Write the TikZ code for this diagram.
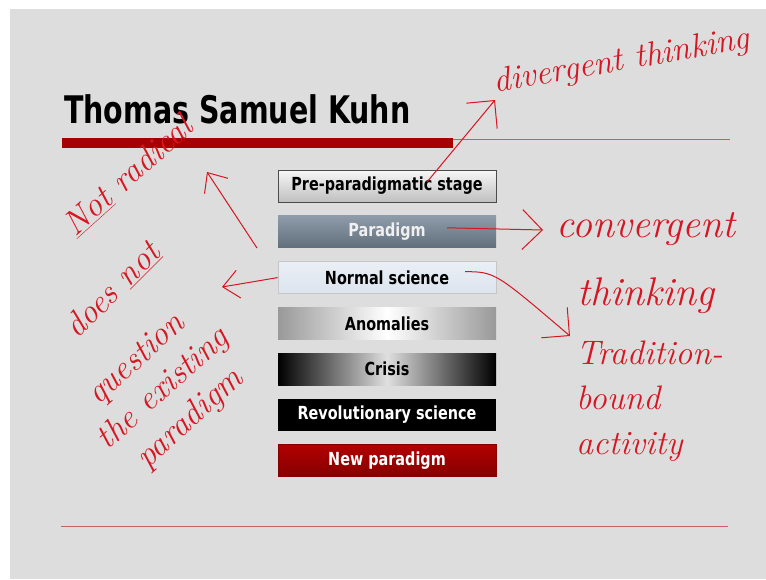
\documentclass[tikz,border=0pt]{standalone}
\usepackage{fontspec}
\newfontfamily\slidefont{DejaVu Sans}[FakeStretch=0.8]
\newfontfamily\titlefont{DejaVu Sans}[FakeStretch=0.75]
\usetikzlibrary{arrows.meta, positioning}
\definecolor{slidegray}{RGB}{221,221,221}
\definecolor{inkred}{RGB}{214,22,34}
\definecolor{kuhnred}{RGB}{168,0,0}
\definecolor{ruleline}{RGB}{198,96,96}
\definecolor{parblue}{RGB}{122,138,154}
\definecolor{normblue}{RGB}{220,228,238}
\tikzset{
  stagebox/.style={
    rectangle, minimum width=218pt, minimum height=32pt,
    inner sep=0pt, line width=0.8pt,
    font=\slidefont\bfseries\fontsize{18}{20}\selectfont
  },
  ink/.style={text=inkred, inner sep=1pt, font=\itshape\fontsize{34}{40}\selectfont},
  inkarr/.style={-{Straight Barb[length=20pt, width=40pt]}, draw=inkred, line width=1pt},
  smallarr/.style={-{Straight Barb[length=16pt, width=28pt]}, draw=inkred, line width=1pt},
}

\begin{document}
\begin{tikzpicture}[x=1pt, y=-1pt, node distance=13pt]
  \useasboundingbox (0,0) rectangle (766,579);
  \fill[white] (0,0) rectangle (766,579);
  \fill[slidegray] (10,9) rectangle (766,579);
  % title and rules
  \node[anchor=base west, inner sep=0pt,
        font=\titlefont\bfseries\fontsize{38}{40}\selectfont] (title) at (64,123) {Thomas Samuel Kuhn};
  \fill[kuhnred] (62,138) rectangle (453,148);
  \draw[ruleline, line width=1pt] (453,139) -- (730,139);
  \draw[ruleline, line width=1pt] (61,526) -- (728,526);
  % stages
  \node[stagebox, draw=gray!60!black, top color=white!94!gray, bottom color=gray!50] (pre) at (387,186) {Pre-paradigmatic stage};
  \node[stagebox, below=of pre, top color=parblue!85, bottom color=parblue!80!black, text=white!88!gray] (par) {Paradigm};
  \node[stagebox, below=of par, draw=gray!45, top color=normblue!60, bottom color=normblue] (nsc) {Normal science};
  \node[stagebox, below=of nsc, left color=gray!80, right color=gray!80, middle color=white] (ano) {Anomalies};
  \node[stagebox, below=of ano, left color=black, right color=black, middle color=gray!25] (cri) {Crisis};
  \node[stagebox, below=of cri, fill=black, text=white] (rev) {Revolutionary science};
  \node[stagebox, below=of rev, draw=kuhnred!80!black, top color=kuhnred!90!red, bottom color=kuhnred!80!black, text=white] (newp) {New paradigm};
  % notes
  \node[ink, rotate=10] (div) at (622,62) {divergent thinking};
  \node[ink, rotate=42] (rad) at (128,176) {\underline{Not} radical};
  \node[ink, rotate=45] (dnot) at (112,290) {does \underline{not}};
  \node[ink, rotate=42, align=center] (quest) at (164,390) {question\\the existing\\paradigm};
  \node[ink, align=center, font=\itshape\fontsize{40}{68}\selectfont] (conv) at (646,263) {convergent\\thinking};
  \node[ink, align=left, anchor=north west, font=\itshape\fontsize{34}{45}\selectfont] (trad) at (575,340) {Tradition-\\bound\\activity};
  \coordinate (divtip) at (495,100);
  \coordinate (radtip) at (207,172);
  \coordinate (upfoot) at (257,248);
  \coordinate (dnottip) at (222,287);
  \coordinate (convtip) at (543,230);
  \coordinate (tradtip) at (570,336);
  \draw[inkarr] ([xshift=40pt, yshift=4pt]pre.center) -- (divtip);
  \draw[smallarr] (upfoot) -- (radtip);
  \draw[smallarr] (nsc.west) -- (dnottip);
  \draw[inkarr] ([xshift=60pt, yshift=4pt]par.center) -- (convtip);
  \draw[inkarr] ([xshift=78pt, yshift=6pt]nsc.center) .. controls (495,272) .. (tradtip);
\end{tikzpicture}
\end{document}
